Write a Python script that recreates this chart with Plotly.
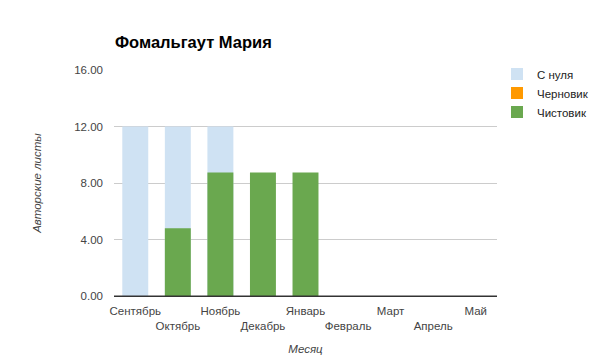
import plotly.graph_objects as go

months = ["Сентябрь", "Октябрь", "Ноябрь", "Декабрь", "Январь", "Февраль", "Март", "Апрель", "Май"]
s_nulya = [12, 12, 12, 0, 0, 0, 0, 0, 0]
chernovik = [0, 0, 0, 0, 0, 0, 0, 0, 0]
chistovik = [0, 4.8, 8.75, 8.75, 8.75, 0, 0, 0, 0]
y_ticks = [0, 4, 8, 12, 16]
y_tick_labels = ["0.00", "4.00", "8.00", "12.00", "16.00"]

ticktext = [m if i % 2 == 0 else "<br>" + m for i, m in enumerate(months)]

W, H = 597, 354  # page body has an 8px margin

fig = go.Figure()
fig.add_trace(go.Bar(x=months, y=s_nulya, name="С нуля", marker=dict(color="#cfe2f3", line=dict(width=0))))
fig.add_trace(go.Bar(x=months, y=chernovik, name="Черновик", marker=dict(color="#ff9900", line=dict(width=0))))
fig.add_trace(go.Bar(x=months, y=chistovik, name="Чистовик", marker=dict(color="#6aa84f", line=dict(width=0))))

fig.update_layout(
    width=W, height=H,
    margin=dict(l=106, r=108, t=62, b=66, autoexpand=False),
    barmode="overlay",
    bargap=0.39,
    plot_bgcolor="white", paper_bgcolor="white",
    font=dict(family="Liberation Sans, Arial, sans-serif", size=11.5, color="#444"),
    title=dict(text="<b>Фомальгаут Мария</b>", x=107/W, xanchor="left", y=1-34/H, yanchor="middle",
               font=dict(size=16.5, color="#000")),
    legend=dict(x=1.0, xanchor="left", y=1.046, yanchor="top", font=dict(size=11.5, color="#222"),
                tracegroupgap=0, itemwidth=30),
    xaxis=dict(tickmode="array", tickvals=months, ticktext=ticktext, showgrid=False, tickangle=0,
               automargin=False, ticklabelstandoff=4,
               showline=True, linecolor="#333", linewidth=1, ticks="",
               title=dict(text="<i>Месяц</i>", font=dict(size=11.5, color="#444"), standoff=14),
               tickfont=dict(size=11.5, color="#444")),
    yaxis=dict(range=[0, 16], tickmode="array", tickvals=y_ticks, ticktext=y_tick_labels, automargin=False,
               showgrid=True, gridcolor="#ccc", zeroline=False, ticks="", ticklen=0, ticklabelstandoff=10,
               title=dict(text="<i>Авторские листы</i>", font=dict(size=11.5, color="#444"), standoff=30),
               tickfont=dict(size=11.5, color="#444")),
)
fig.add_shape(type="line", xref="paper", yref="y", x0=0, x1=1, y0=0, y1=0, line=dict(color="#333", width=1))

fig.write_html("out.html")
